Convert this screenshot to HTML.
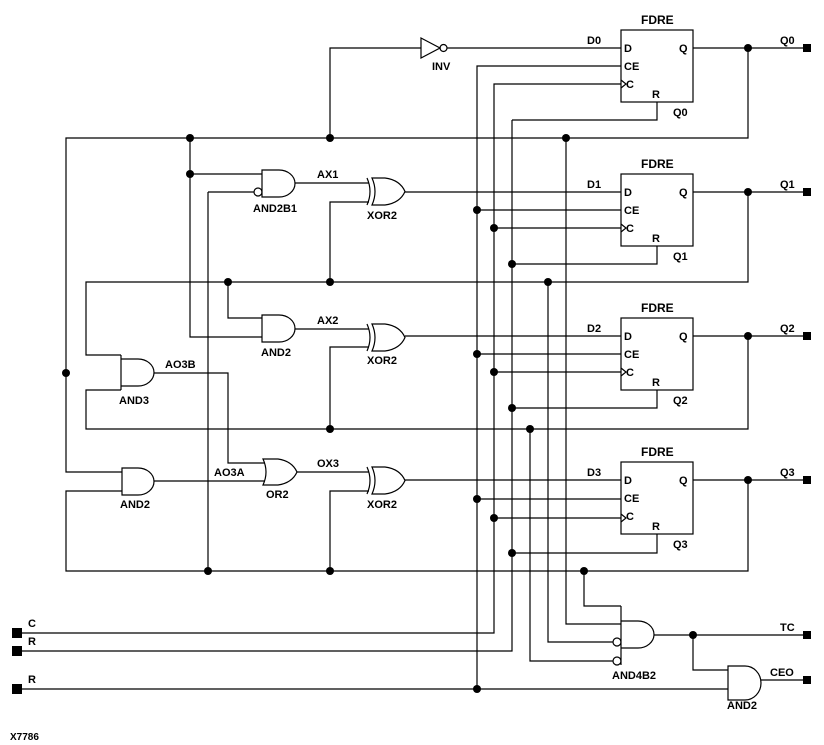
<!DOCTYPE html>
<html><head><style>
html,body{margin:0;padding:0;background:#fff;}
svg{display:block}
text{font-family:"Liberation Sans",sans-serif;font-size:11px;font-weight:bold;fill:#000}
</style></head><body>
<svg width="824" height="745" viewBox="0 0 824 745" xmlns="http://www.w3.org/2000/svg">
<g fill="none" stroke="#000" stroke-width="1.2">
<!-- FDRE boxes -->
<rect x="621" y="30" width="72" height="72"/>
<rect x="621" y="174" width="72" height="72"/>
<rect x="621" y="318" width="72" height="72"/>
<rect x="621" y="462" width="72" height="72"/>
<!-- clock triangles -->
<path d="M621 80 L626 84 L621 88 M621 224 L626 228 L621 232 M621 368 L626 372 L621 376 M621 514 L626 518 L621 522"/>
<!-- Q outputs -->
<path d="M693 48H806 M693 192H806 M693 336H806 M693 480H806"/>
<!-- Q feedback -->
<path d="M748 48V138H66V472H122"/>
<path d="M748 192V282H86V355H121"/>
<path d="M748 336V429H86V390H121"/>
<path d="M748 480V571H66V491H122"/>
<!-- R pins -->
<path d="M657 102V120H512 M657 246V264H512 M657 390V408H512 M657 534V553H512"/>
<!-- CE -->
<path d="M621 66H477V689 M621 210H477 M621 354H477 M621 499H477"/>
<!-- C -->
<path d="M621 84H494V633H14 M621 228H494 M621 372H494 M621 518H494"/>
<!-- R bus -->
<path d="M512 120V651H14"/>
<path d="M14 689H728"/>
<!-- D0 path -->
<path d="M330 138V48H421 M447 48H621"/>
<path d="M421 38L440 48L421 58Z"/>
<circle cx="443.5" cy="48" r="3.5"/>
<!-- top section -->
<path d="M190 138V337H262 M190 174H262 M208 192H254 M208 192V571"/>
<circle cx="258" cy="192" r="4"/>
<path d="M262 170H279A16 13.5 0 0 1 279 197H262Z"/>
<path d="M295 183H369 M330 282V202H369"/>
<path d="M367 178Q373 191.5 367 205"/>
<path d="M372 178H385Q400 180 405 191.5Q400 203 385 205H372Q378 191.5 372 178Z"/>
<path d="M405 192H621"/>
<!-- middle -->
<path d="M228 282V318H262"/>
<path d="M262 315H279A16 13.5 0 0 1 279 342H262Z"/>
<path d="M295 329H369 M330 429V347H369"/>
<path d="M367 324Q373 337.5 367 351"/>
<path d="M372 324H385Q400 326 405 337.5Q400 349 385 351H372Q378 337.5 372 324Z"/>
<path d="M405 336H621"/>
<!-- AND3 -->
<path d="M121 355V390 M121 359H138A16 13.5 0 0 1 138 386H121"/>
<path d="M154 373H228V463H265"/>
<!-- AND2 lower -->
<path d="M122 468H138A16 13.5 0 0 1 138 495H122Z"/>
<path d="M154 481H265"/>
<!-- OR2 -->
<path d="M263 459H278Q292 461 297 472Q292 483 278 485H263Q269 472 263 459Z"/>
<path d="M297 472H369 M330 571V491H369"/>
<path d="M367 467Q373 480.5 367 494"/>
<path d="M372 467H385Q400 469 405 480.5Q400 492 385 494H372Q378 480.5 372 467Z"/>
<path d="M405 480H621"/>
<!-- AND4B2 feeds -->
<path d="M584 571V606H621 M566 138V624H621 M548 282V642H613 M530 429V661H613"/>
<circle cx="617" cy="642" r="4"/>
<circle cx="617" cy="661" r="4"/>
<path d="M621 606V665 M621 621H638A16 13.5 0 0 1 638 648H621"/>
<path d="M654 635H806 M693 635V670H728"/>
<path d="M728 666H745A16 17 0 0 1 745 700H728Z"/>
<path d="M761 680H806"/>
</g>
<g fill="#000">
<!-- dots -->
<circle cx="748" cy="48" r="4"/><circle cx="748" cy="192" r="4"/><circle cx="748" cy="336" r="4"/><circle cx="748" cy="480" r="4"/>
<circle cx="190" cy="138" r="4"/><circle cx="330" cy="138" r="4"/><circle cx="566" cy="138" r="4"/>
<circle cx="190" cy="174" r="4"/>
<circle cx="228" cy="282" r="4"/><circle cx="330" cy="282" r="4"/><circle cx="548" cy="282" r="4"/>
<circle cx="330" cy="429" r="4"/><circle cx="530" cy="429" r="4"/>
<circle cx="208" cy="571" r="4"/><circle cx="330" cy="571" r="4"/><circle cx="584" cy="571" r="4"/>
<circle cx="66" cy="373" r="4"/>
<circle cx="477" cy="210" r="4"/><circle cx="477" cy="354" r="4"/><circle cx="477" cy="499" r="4"/><circle cx="477" cy="689" r="4"/>
<circle cx="494" cy="228" r="4"/><circle cx="494" cy="372" r="4"/><circle cx="494" cy="518" r="4"/>
<circle cx="512" cy="264" r="4"/><circle cx="512" cy="408" r="4"/><circle cx="512" cy="553" r="4"/>
<circle cx="693" cy="635" r="4"/>
<!-- terminals -->
<rect x="803" y="44" width="8" height="8"/><rect x="803" y="188" width="8" height="8"/>
<rect x="803" y="332" width="8" height="8"/><rect x="803" y="476" width="8" height="8"/>
<rect x="803" y="631" width="8" height="8"/><rect x="803" y="676" width="8" height="8"/>
<rect x="12" y="628" width="10" height="10"/><rect x="12" y="646" width="10" height="10"/><rect x="12" y="684" width="10" height="10"/>
</g>
<!-- FDRE text -->
<text x="641" y="24" style="font-size:12px">FDRE</text>
<text x="641" y="168" style="font-size:12px">FDRE</text>
<text x="641" y="312" style="font-size:12px">FDRE</text>
<text x="641" y="456" style="font-size:12px">FDRE</text>
<g>
<text x="624" y="52">D</text><text x="624" y="70">CE</text><text x="626" y="88">C</text><text x="652" y="98">R</text><text x="679" y="52">Q</text><text x="673" y="116">Q0</text>
<text x="624" y="196">D</text><text x="624" y="214">CE</text><text x="626" y="232">C</text><text x="652" y="242">R</text><text x="679" y="196">Q</text><text x="673" y="260">Q1</text>
<text x="624" y="340">D</text><text x="624" y="358">CE</text><text x="626" y="376">C</text><text x="652" y="386">R</text><text x="679" y="340">Q</text><text x="673" y="404">Q2</text>
<text x="624" y="484">D</text><text x="624" y="502">CE</text><text x="626" y="520">C</text><text x="652" y="530">R</text><text x="679" y="484">Q</text><text x="673" y="548">Q3</text>
<text x="587" y="44">D0</text><text x="587" y="188">D1</text><text x="587" y="332">D2</text><text x="587" y="476">D3</text>
<text x="780" y="44">Q0</text><text x="780" y="188">Q1</text><text x="780" y="332">Q2</text><text x="780" y="476">Q3</text>
<text x="780" y="631">TC</text><text x="770" y="676">CEO</text>
<text x="432" y="70">INV</text>
<text x="253" y="212">AND2B1</text>
<text x="317" y="178">AX1</text>
<text x="367" y="219">XOR2</text>
<text x="317" y="324">AX2</text>
<text x="261" y="356">AND2</text>
<text x="367" y="364">XOR2</text>
<text x="165" y="368">AO3B</text>
<text x="119" y="404">AND3</text>
<text x="214" y="476">AO3A</text>
<text x="317" y="467">OX3</text>
<text x="266" y="498">OR2</text>
<text x="367" y="508">XOR2</text>
<text x="120" y="508">AND2</text>
<text x="612" y="679">AND4B2</text>
<text x="727" y="709">AND2</text>
<text x="28" y="627">C</text><text x="28" y="645">R</text><text x="28" y="683">R</text>
<text x="10" y="740" style="font-size:10px">X7786</text>
</g>
</svg>
</body></html>
